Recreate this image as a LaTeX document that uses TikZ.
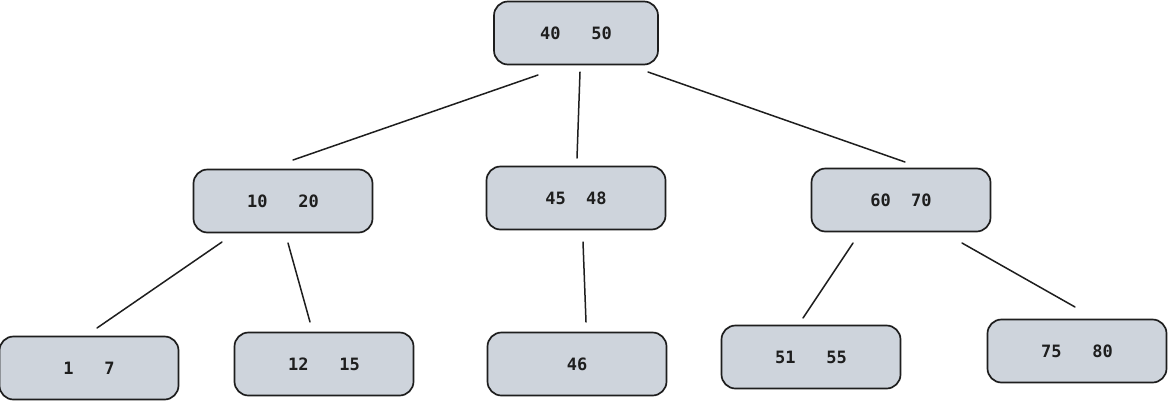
\documentclass[tikz,border=0pt]{standalone}
\usepackage{fontspec}
\setmonofont{DejaVu Sans Mono}
\definecolor{boxfill}{HTML}{CED4DC}
\definecolor{ink}{HTML}{1E1E1E}
\begin{document}
\begin{tikzpicture}[x=1pt,y=-1pt,
  keybox/.style={draw=ink,fill=boxfill,line width=1.7pt,rounded corners=14pt,
    minimum width=179pt,minimum height=63pt,inner sep=0pt,
    font=\ttfamily\bfseries\fontsize{17}{20}\selectfont,text=ink},
  edge/.style={draw=ink,line width=1.5pt,line cap=round}]
\useasboundingbox (0,0) rectangle (1169,407);
\fill[white] (0,0) rectangle (1169,407);
\node[keybox,minimum width=164pt] (r) at (576,33) {40~~~50};
\node[keybox] (a) at (283,201) {10~~~20};
\node[keybox] (b) at (576,198) {45~~48};
\node[keybox] (c) at (901,200) {60~~70};
\node[keybox] (a1) at (89,368) {1~~~7};
\node[keybox] (a2) at (324,364) {12~~~15};
\node[keybox] (b1) at (577,364) {46};
\node[keybox] (c1) at (811,357) {51~~~55};
\node[keybox] (c2) at (1077,351) {75~~~80};
\coordinate (r1) at (538,75); \coordinate (r1e) at (293,160);
\coordinate (r2) at (580,72); \coordinate (r2e) at (577,158);
\coordinate (r3) at (648,72); \coordinate (r3e) at (905,162);
\coordinate (a1s) at (222,242); \coordinate (a1e) at (97,328);
\coordinate (a2s) at (288,243); \coordinate (a2e) at (310,322);
\coordinate (b1s) at (583,242); \coordinate (b1e) at (586,322);
\coordinate (c1s) at (853,243); \coordinate (c1e) at (803,318);
\coordinate (c2s) at (962,243); \coordinate (c2e) at (1075,307);
\draw[edge] (r1) -- (r1e);
\draw[edge] (r2) -- (r2e);
\draw[edge] (r3) -- (r3e);
\draw[edge] (a1s) -- (a1e);
\draw[edge] (a2s) -- (a2e);
\draw[edge] (b1s) -- (b1e);
\draw[edge] (c1s) -- (c1e);
\draw[edge] (c2s) -- (c2e);
\end{tikzpicture}
\end{document}
